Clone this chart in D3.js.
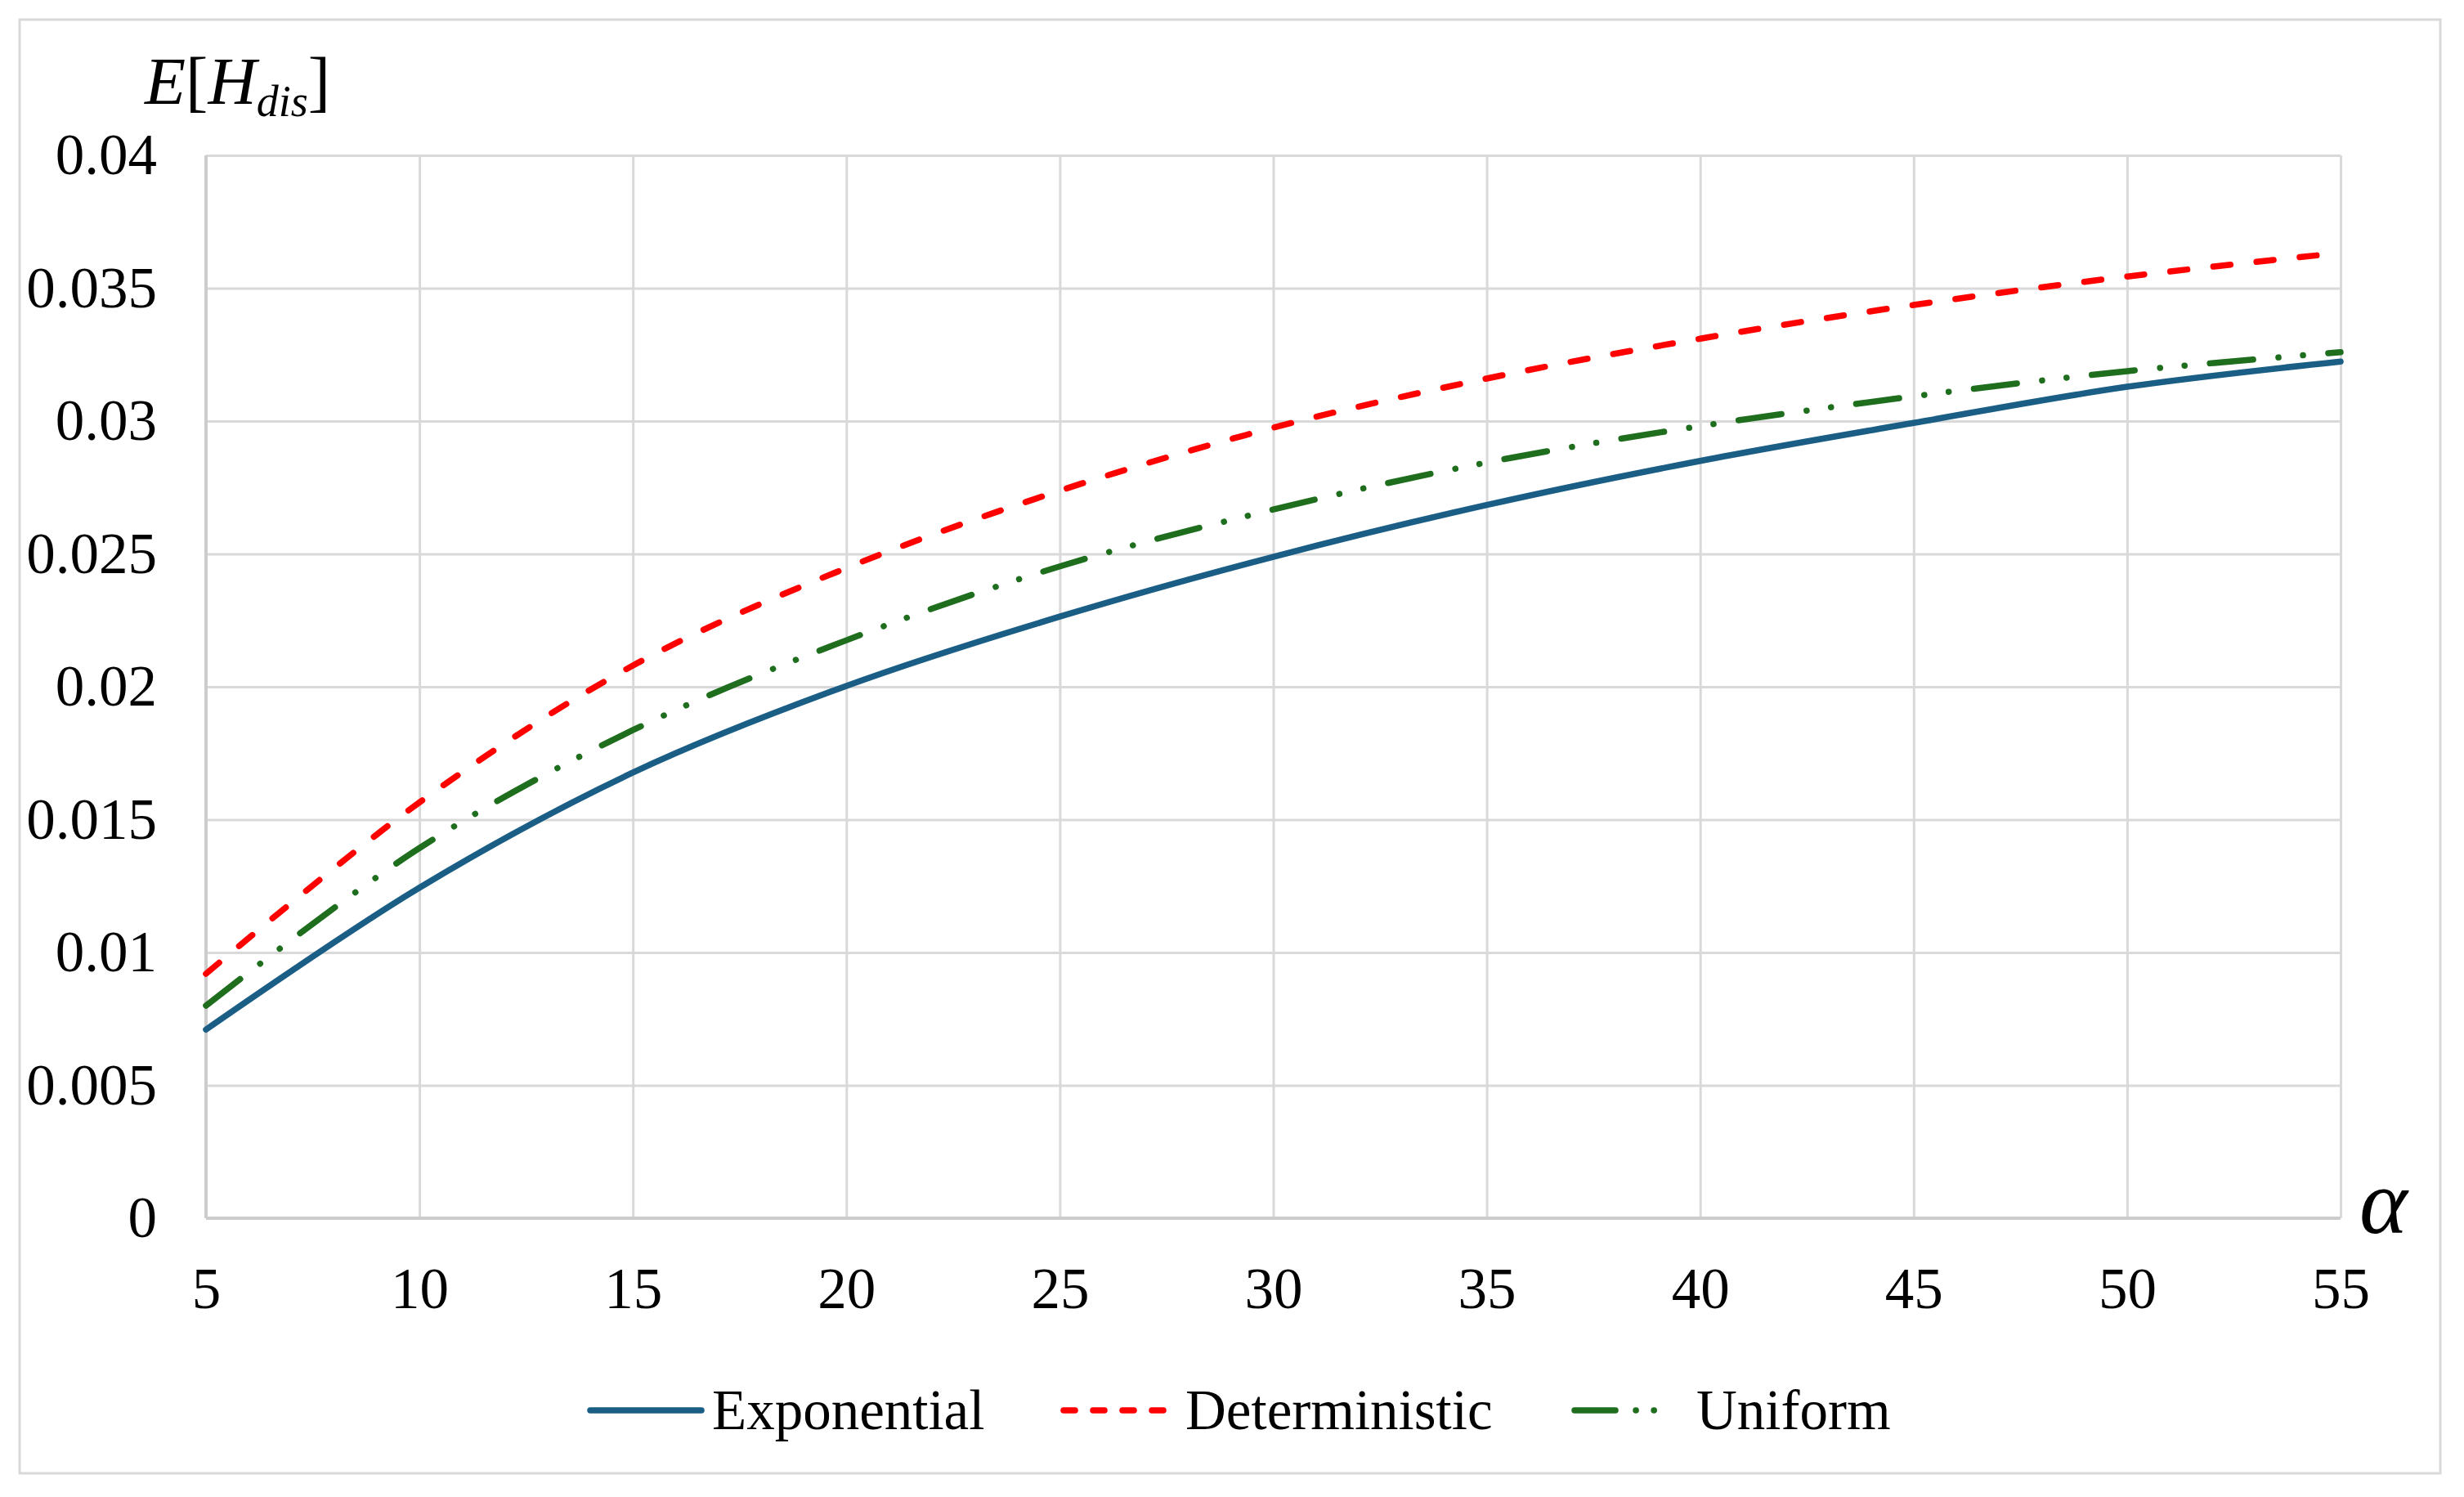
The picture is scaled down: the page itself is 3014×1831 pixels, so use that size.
<!DOCTYPE html>
<html>
<head>
<meta charset="utf-8">
<script src="https://cdn.jsdelivr.net/npm/d3@7"></script>
<style>
  body { margin: 0; background: #fff; }
  text { font-family: "Liberation Serif", "Times New Roman", serif; fill: #000; }
</style>
</head>
<body>
<svg id="chart" width="3014" height="1831"></svg>
<script>
(function() {

  // alpha values and the three curves
  var alphas = [5, 10, 15, 20, 25, 30, 35, 40, 45, 50, 55];
  var exponential   = [0.0071, 0.01244, 0.01677, 0.02003, 0.02264, 0.02489, 0.02684, 0.0285, 0.02993, 0.03129, 0.03224];
  var deterministic = [0.0092, 0.01565, 0.0208, 0.02447, 0.02738, 0.02975, 0.0316, 0.0331, 0.03437, 0.03544, 0.03633];
  var uniform       = [0.0080, 0.01393, 0.01837, 0.02175, 0.02453, 0.02667, 0.02844, 0.02981, 0.03093, 0.03188, 0.03259];
  var seriesNames = ["Exponential", "Deterministic", "Uniform"];
  var xTicks = [5, 10, 15, 20, 25, 30, 35, 40, 45, 50, 55];
  var yTicks = [0, 0.005, 0.01, 0.015, 0.02, 0.025, 0.03, 0.035, 0.04];

  var W = 3014, H = 1831;
  var margin = {top: 190, right: 151, bottom: 341, left: 252};
  var width = W - margin.left - margin.right,
      height = H - margin.top - margin.bottom;

  var svg = d3.select("#chart");

  // outer frame
  svg.append("rect")
    .attr("x", 24).attr("y", 24)
    .attr("width", 2961).attr("height", 1778)
    .attr("fill", "none")
    .attr("stroke", "#d9d9d9")
    .attr("stroke-width", 3);

  var chart = svg.append("g")
    .attr("transform", "translate(" + margin.left + "," + margin.top + ")");

  var x = d3.scaleLinear().domain([5, 55]).range([0, width]);
  var y = d3.scaleLinear().domain([0, 0.04]).range([height, 0]);

  // y grid + labels
  var yAxis = chart.append("g")
    .call(d3.axisLeft(y).tickValues(yTicks).tickSize(-width).tickPadding(60)
      .tickFormat(function(d) { return +d.toFixed(3); }));
  yAxis.select(".domain").remove();
  yAxis.selectAll("line").attr("stroke", "#d9d9d9").attr("stroke-width", 3);
  yAxis.selectAll("text")
    .style("font-family", "'Liberation Serif', serif")
    .style("font-size", "71px")
    .attr("fill", "#000");

  // x grid + labels
  var xAxis = chart.append("g")
    .attr("transform", "translate(0," + height + ")")
    .call(d3.axisBottom(x).tickValues(xTicks).tickSize(-height).tickPadding(60));
  xAxis.select(".domain").remove();
  xAxis.selectAll("line").attr("stroke", "#d9d9d9").attr("stroke-width", 3);
  xAxis.selectAll("text")
    .style("font-family", "'Liberation Serif', serif")
    .style("font-size", "71px")
    .attr("fill", "#000");

  // axis lines
  chart.append("line")
    .attr("x1", 0).attr("x2", 0).attr("y1", 0).attr("y2", height)
    .attr("stroke", "#cccccc").attr("stroke-width", 4);
  chart.append("line")
    .attr("x1", 0).attr("x2", width).attr("y1", height).attr("y2", height)
    .attr("stroke", "#cccccc").attr("stroke-width", 4);

  var styles = {
    "Exponential":   {color: "#1a5e86", dash: null, legendDash: null},
    "Deterministic": {color: "#ff0000", dash: "21,32", legendDash: "14,22"},
    "Uniform":       {color: "#1e6e1e", dash: "53,31,0.1,30,0.1,31", legendDash: "50,25,0.1,22,0.1,40"}
  };
  var values = {"Exponential": exponential, "Deterministic": deterministic, "Uniform": uniform};

  var line = d3.line()
    .x(function(d) { return x(d[0]); })
    .y(function(d) { return y(d[1]); })
    .curve(d3.curveCatmullRom);

  seriesNames.forEach(function(name) {
    var pts = alphas.map(function(a, i) { return [a, values[name][i]]; });
    chart.append("path")
      .datum(pts)
      .attr("d", line)
      .attr("fill", "none")
      .attr("stroke", styles[name].color)
      .attr("stroke-width", 7.5)
      .attr("stroke-linecap", "round")
      .attr("stroke-dasharray", styles[name].dash);
  });

  // y axis title E[H_dis]
  var t = svg.append("text")
    .attr("x", 177).attr("y", 127)
    .style("font-size", "82px");
  t.append("tspan").style("font-style", "italic").text("E");
  t.append("tspan").text("[");
  t.append("tspan").style("font-style", "italic").text("H");
  t.append("tspan").style("font-style", "italic").style("font-size", "54px").attr("dy", 15).text("dis");
  t.append("tspan").attr("dy", -15).text("]");

  // x axis title alpha
  svg.append("text")
    .attr("x", 2886).attr("y", 1508)
    .style("font-size", "112px")
    .style("font-style", "italic")
    .text("α");

  // legend
  var legendX = [722, 1301, 1926];
  var legend = svg.append("g");
  seriesNames.forEach(function(name, i) {
    legend.append("line")
      .attr("x1", legendX[i]).attr("x2", legendX[i] + 136)
      .attr("y1", 1725).attr("y2", 1725)
      .attr("stroke", styles[name].color)
      .attr("stroke-width", 7.5)
      .attr("stroke-linecap", "round")
      .attr("stroke-dasharray", styles[name].legendDash);
    legend.append("text")
      .attr("x", legendX[i] + 149).attr("y", 1748)
      .style("font-size", "69px")
      .text(name);
  });

})();
</script>
</body>
</html>
